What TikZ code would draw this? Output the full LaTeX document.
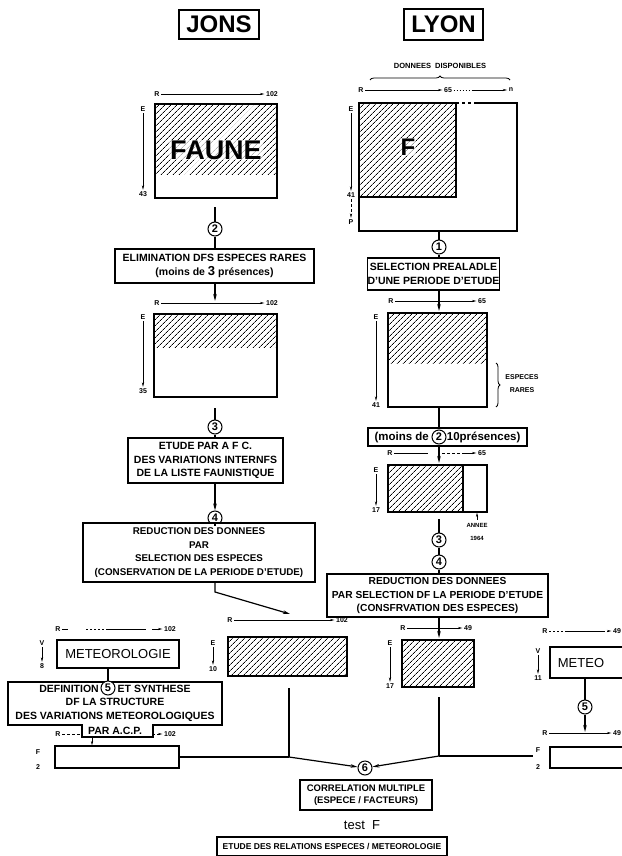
\documentclass[tikz,border=0pt]{standalone}
\usepackage{fontspec}
\setmainfont{Liberation Sans}
\usetikzlibrary{arrows.meta,patterns.meta,decorations.pathreplacing,positioning}

\newcommand\boxfont{\fontsize{10.5}{13.5}\selectfont\bfseries}
\newcommand\lblfont{\fontsize{7}{8}\selectfont\bfseries}
\newcommand\numfont{\fontsize{11}{11}\selectfont\bfseries}

\tikzset{
  title/.style={draw, line width=1.2pt, inner sep=0pt, font=\fontsize{24}{24}\selectfont\bfseries},
  box/.style={draw, line width=1.1pt, fill=white, align=center, inner sep=0pt, font=\boxfont},
  matnode/.style={draw, line width=1.1pt, inner sep=0pt},
  hatched/.style={pattern={Lines[angle=45, distance=4pt, line width=0.7pt]}},
  stepnum/.style={circle, draw, line width=1pt, fill=white, minimum size=14pt, inner sep=0pt, font=\numfont},
  lbl/.style={font=\lblfont, inner sep=1.5pt},
  axis/.style={>={Stealth[length=4.5pt, width=2.2pt]}, ->, line width=0.6pt},
  link/.style={line width=1.2pt},
  flow/.style={>={Stealth[length=7pt, width=3.5pt]}, ->, line width=1.2pt},
}

\begin{document}
\begin{tikzpicture}[x=1pt, y=-1pt]
\useasboundingbox (0,0) rectangle (621,856);

% Titles
\node[title, minimum width=80pt, minimum height=29pt] (jons) at (219,24.5) {JONS};
\node[title, minimum width=79pt, minimum height=31pt] (lyon) at (443.5,24.5) {LYON};

% ---------- JONS ----------
% Faune matrix
\fill[hatched] (155,104) rectangle (277,174);
\node[matnode, minimum width=122pt, minimum height=94pt] (mJ1) at (216,151) {};
\node[font=\fontsize{27}{27}\selectfont\bfseries, fill=white, fill opacity=0.7, text opacity=1, inner sep=1pt] (fauneJ) at (216,150) {FAUNE};
\node[lbl] (rJ1) at (157,94) {R};
\node[lbl] (vJ1) at (272,94) {102};
\draw[axis] (rJ1) -- (vJ1);
\node[lbl] (eJ1) at (143,109) {E};
\node[lbl] (kJ1) at (143,194) {43};
\draw[axis] (eJ1) -- (kJ1);

% Step 2
\coordinate (sJ1) at (215,207);
\node[stepnum] (c2J) at (215,229) {2};
\node[box, minimum width=199pt, minimum height=34pt] (elimJ) at (214.5,266)
  {ELIMINATION DFS ESPECES RARES\\(moins de {\fontsize{13}{13}\selectfont 3} présences)};
\draw[link] (sJ1) -- (c2J) -- (c2J |- elimJ.north);
\coordinate (aJ2) at (215,301);
\draw[flow] (elimJ.south -| aJ2) -- (aJ2);

% Matrix 2
\fill[hatched] (154,314) rectangle (277,347);
\node[matnode, minimum width=123pt, minimum height=83pt] (mJ2) at (215.5,355.5) {};
\node[lbl] (rJ2) at (157,303) {R};
\node[lbl] (vJ2) at (272,303) {102};
\draw[axis] (rJ2) -- (vJ2);
\node[lbl] (eJ2) at (143,317) {E};
\node[lbl] (kJ2) at (143,391) {35};
\draw[axis] (eJ2) -- (kJ2);

% Step 3
\coordinate (sJ2) at (215,408);
\node[stepnum] (c3J) at (215,427) {3};
\node[box, minimum width=155pt, minimum height=45pt] (afcJ) at (205.5,460.5)
  {ETUDE PAR A F C.\\DES VARIATIONS INTERNFS\\DE LA LISTE FAUNISTIQUE};
\draw[link] (sJ2) -- (c3J) -- (c3J |- afcJ.north);

% Step 4
\node[stepnum] (c4J) at (215,518) {4};
\draw[flow] (afcJ.south -| c4J) -- (c4J);
\node[box, minimum width=232pt, minimum height=59pt, font=\fontsize{9.8}{13.5}\selectfont\bfseries] (redJ) at (199,552.5)
  {REDUCTION DES DONNEES\\PAR\\SELECTION DES ESPECES\\(CONSERVATION DE LA PERIODE D'ETUDE)};
\draw[link] (c4J) -- (c4J |- redJ.north);
\coordinate (kinkJ) at (215,592);
\coordinate (tipJ) at (290,614);
\draw[flow] (redJ.south -| kinkJ) -- (kinkJ) -- (tipJ);

% Matrix 3
\node[matnode, hatched, minimum width=119pt, minimum height=39pt] (mJ3) at (287.5,656.5) {};
\node[lbl] (rJ3) at (230,620) {R};
\node[lbl] (vJ3) at (342,620) {102};
\draw[axis] (rJ3) -- (vJ3);
\node[lbl] (eJ3) at (213,643) {E};
\node[lbl] (kJ3) at (213,669) {10};
\draw[axis] (eJ3) -- (kJ3);

% Meteorologie
\node[matnode, minimum width=122pt, minimum height=28pt, font=\fontsize{13}{13}\selectfont] (meteoL) at (118,654) {METEOROLOGIE};
\node[lbl] (rML) at (58,629) {R};
\node[lbl] (vML) at (170,629) {102};
\draw[axis, dash pattern=on 6pt off 18pt on 2pt off 2pt on 2pt off 2pt on 2pt off 2pt on 2pt off 2pt on 2pt off 2pt on 40pt] (rML) -- (vML);
\node[lbl] (eML) at (42,643) {V};
\node[lbl] (kML) at (42,666) {8};
\draw[axis] (eML) -- (kML);

% Step 5 (definition box with tab)
\node[lbl] (rFL) at (58,734) {R};
\node[lbl] (vFL) at (170,734) {102};
\draw[axis, densely dashed] (rFL) -- (vFL);
\filldraw[fill=white, line width=1.1pt] (8,682) -- (222,682) -- (222,725) -- (153,725) -- (153,737)
  -- (82,737) -- (82,725) -- (8,725) -- cycle;
\node[align=center, font=\boxfont, inner sep=0pt] (defL) at (115,709.5)
  {DEFINITION\hspace{16pt} ET SYNTHESE\\DF LA STRUCTURE\\DES VARIATIONS METEOROLOGIQUES\\[1.5pt]PAR A.C.P.};
\node[stepnum] (c5L) at (108,688) {5};
\draw[link] (meteoL.south -| c5L) -- (c5L);

% F matrix (left)
\node[matnode, minimum width=124pt, minimum height=22pt] (fL) at (117,757) {};
\node[lbl] (fFL) at (38,752) {F};
\node[lbl] (kFL) at (38,767) {2};
\coordinate (tabL) at (92,737);
\draw[axis] (tabL) -- (tabL |- fL.north);

% Junction left
\coordinate (sJ3) at (289,688);
\coordinate (jL) at (289,757);
\node[stepnum] (c6) at (365,768) {6};
\draw[link] (sJ3) -- (jL);
\draw[link] (fL.east) -- (jL);
\draw[flow] (jL) -- (c6);

% ---------- LYON ----------
\node[font=\fontsize{7.5}{8}\selectfont\bfseries] (dispo) at (440,66) {DONNEES\ \ DISPONIBLES};
\draw[decorate, decoration={brace, amplitude=4pt}, line width=0.8pt] (370,80) -- (510,80);

% Available data matrix
\fill[hatched] (359,103) rectangle (456,197);
\draw[line width=1.1pt] (359,103) rectangle (456,197);
\node[matnode, minimum width=158pt, minimum height=128pt] (mL1) at (438,167) {};
\draw[white, line width=1.6pt, dash pattern=on 3pt off 3pt] (459,103) -- (474,103);
\node[font=\fontsize{24}{24}\selectfont\bfseries, fill=white, fill opacity=0.6, text opacity=1, inner sep=1pt] (fL1) at (408,147) {F};
\node[lbl] (rL1) at (361,90) {R};
\node[lbl] (vL1) at (448,90) {65};
\node[lbl] (nL1) at (511,90) {n};
\draw[axis] (rL1) -- (vL1);
\draw[axis, dash pattern=on 1pt off 2pt on 1pt off 2pt on 1pt off 2pt on 1pt off 2pt on 1pt off 2pt on 1pt off 2pt on 40pt] (vL1) -- (nL1);
\node[lbl] (eL1) at (351,109) {E};
\node[lbl] (kL1) at (351,195) {41};
\node[lbl] (pL1) at (351,222) {P};
\draw[axis] (eL1) -- (kL1);
\draw[axis, densely dashed] (kL1) -- (pL1);

% Step 1
\coordinate (sL1) at (439,231);
\node[stepnum] (c1L) at (439,247) {1};
\node[box, minimum width=131pt, minimum height=32pt] (selL) at (433.5,274)
  {SELECTION PREALADLE\\D'UNE PERIODE D'ETUDE};
\draw[link] (sL1) -- (c1L) -- (c1L |- selL.north);
\coordinate (aL2) at (439,311);
\draw[flow] (selL.south -| aL2) -- (aL2);

% Matrix 2
\fill[hatched] (388,313) rectangle (487,363);
\node[matnode, minimum width=99pt, minimum height=94pt] (mL2) at (437.5,360) {};
\node[lbl] (rL2) at (391,301) {R};
\node[lbl] (vL2) at (482,301) {65};
\draw[axis] (rL2) -- (vL2);
\node[lbl] (eL2) at (376,317) {E};
\node[lbl] (kL2) at (376,405) {41};
\draw[axis] (eL2) -- (kL2);
\draw[decorate, decoration={brace, amplitude=4pt}, line width=0.8pt] (496,363) -- (496,407);
\node[font=\fontsize{7}{13}\selectfont\bfseries, align=center] (rares) at (522,384) {ESPECES\\RARES};

% Step 2
\coordinate (sL2) at (439,407);
\node[box, minimum width=159pt, minimum height=18pt, font=\fontsize{11.5}{12}\selectfont\bfseries] (moinsL) at (447.5,437)
  {(moins de\hspace{18pt}10présences)};
\node[stepnum] (c2L) at (439,437) {2};
\draw[link] (sL2) -- (sL2 |- moinsL.north);
\coordinate (aL3) at (439,463);
\draw[flow] (moinsL.south -| aL3) -- (aL3);

% Matrix 3
\fill[hatched] (388,465) rectangle (463,512);
\draw[line width=1.1pt] (463,465) -- (463,512);
\node[matnode, minimum width=99pt, minimum height=47pt] (mL3) at (437.5,488.5) {};
\node[lbl] (rL3) at (390,453) {R};
\node[lbl] (vL3) at (482,453) {65};
\draw[axis, dash pattern=on 34pt off 14pt on 3pt off 2pt on 3pt off 2pt on 3pt off 2pt on 3pt off 2pt on 20pt] (rL3) -- (vL3);
\node[lbl] (eL3) at (376,470) {E};
\node[lbl] (kL3) at (376,510) {17};
\draw[axis] (eL3) -- (kL3);
\node[font=\fontsize{6}{13}\selectfont\bfseries, align=center] (annee) at (477,532) {ANNEE\\1964};
\draw[axis] (annee.north) -- (annee.north |- mL3.south);

% Steps 3 and 4
\coordinate (sL3) at (439,519);
\node[stepnum] (c3L) at (439,540) {3};
\node[stepnum] (c4L) at (439,562) {4};
\node[box, minimum width=221pt, minimum height=43pt, font=\fontsize{10.2}{13.5}\selectfont\bfseries] (redL) at (437.5,595.5)
  {REDUCTION DES DONNEES\\PAR SELECTION DF LA PERIODE D'ETUDE\\(CONSFRVATION DES ESPECES)};
\draw[link] (sL3) -- (c3L) -- (c4L) -- (c4L |- redL.north);
\coordinate (aL4) at (439,638);
\draw[flow] (redL.south -| aL4) -- (aL4);

% Matrix 4
\node[matnode, hatched, minimum width=72pt, minimum height=47pt] (mL4) at (438,663.5) {};
\node[lbl] (rL4) at (403,628) {R};
\node[lbl] (vL4) at (468,628) {49};
\draw[axis] (rL4) -- (vL4);
\node[lbl] (eL4) at (390,643) {E};
\node[lbl] (kL4) at (390,686) {17};
\draw[axis] (eL4) -- (kL4);

% Junction right
\coordinate (sL4) at (439,697);
\coordinate (jR) at (439,756);
\coordinate (eR) at (533,756);
\draw[line width=1.8pt] (sL4) -- (jR);
\draw[link] (jR) -- (eR);
\draw[flow] (jR) -- (c6);

% Meteo (right)
\node[matnode, minimum width=90pt, minimum height=31pt] (meteoR) at (595,662.5) {};
\node[font=\fontsize{13}{13}\selectfont, inner sep=0pt] (meteoRt) at (581,663) {METEO};
\node[lbl] (rMR) at (545,631) {R};
\node[lbl] (vMR) at (617,631) {49};
\draw[axis, dash pattern=on 2pt off 2pt on 2pt off 2pt on 2pt off 2pt on 2pt off 2pt on 40pt] (rMR) -- (vMR);
\node[lbl] (eMR) at (538,651) {V};
\node[lbl] (kMR) at (538,678) {11};
\draw[axis] (eMR) -- (kMR);
\node[stepnum] (c5R) at (585,707) {5};
\coordinate (aR5) at (585,732);
\draw[link] (meteoR.south -| c5R) -- (c5R);
\draw[flow] (c5R) -- (aR5);
\node[lbl] (rFR) at (545,733) {R};
\node[lbl] (vFR) at (617,733) {49};
\draw[axis] (rFR) -- (vFR);
\node[matnode, minimum width=90pt, minimum height=21pt] (fR) at (595,757.5) {};
\node[lbl] (fFR) at (538,750) {F};
\node[lbl] (kFR) at (538,767) {2};

% ---------- Result ----------
\node[box, minimum width=132pt, minimum height=30pt, font=\fontsize{9.5}{12.5}\selectfont\bfseries] (corr) at (366,795)
  {CORRELATION MULTIPLE\\(ESPECE / FACTEURS)};
\node[font=\fontsize{13}{13}\selectfont, inner sep=0pt] (testF) at (362,825) {test\ \ F};
\node[box, minimum width=230pt, minimum height=19pt, font=\fontsize{8.5}{12}\selectfont\bfseries] (etude) at (332,846.5)
  {ETUDE DES RELATIONS ESPECES / METEOROLOGIE};
\end{tikzpicture}
\end{document}
